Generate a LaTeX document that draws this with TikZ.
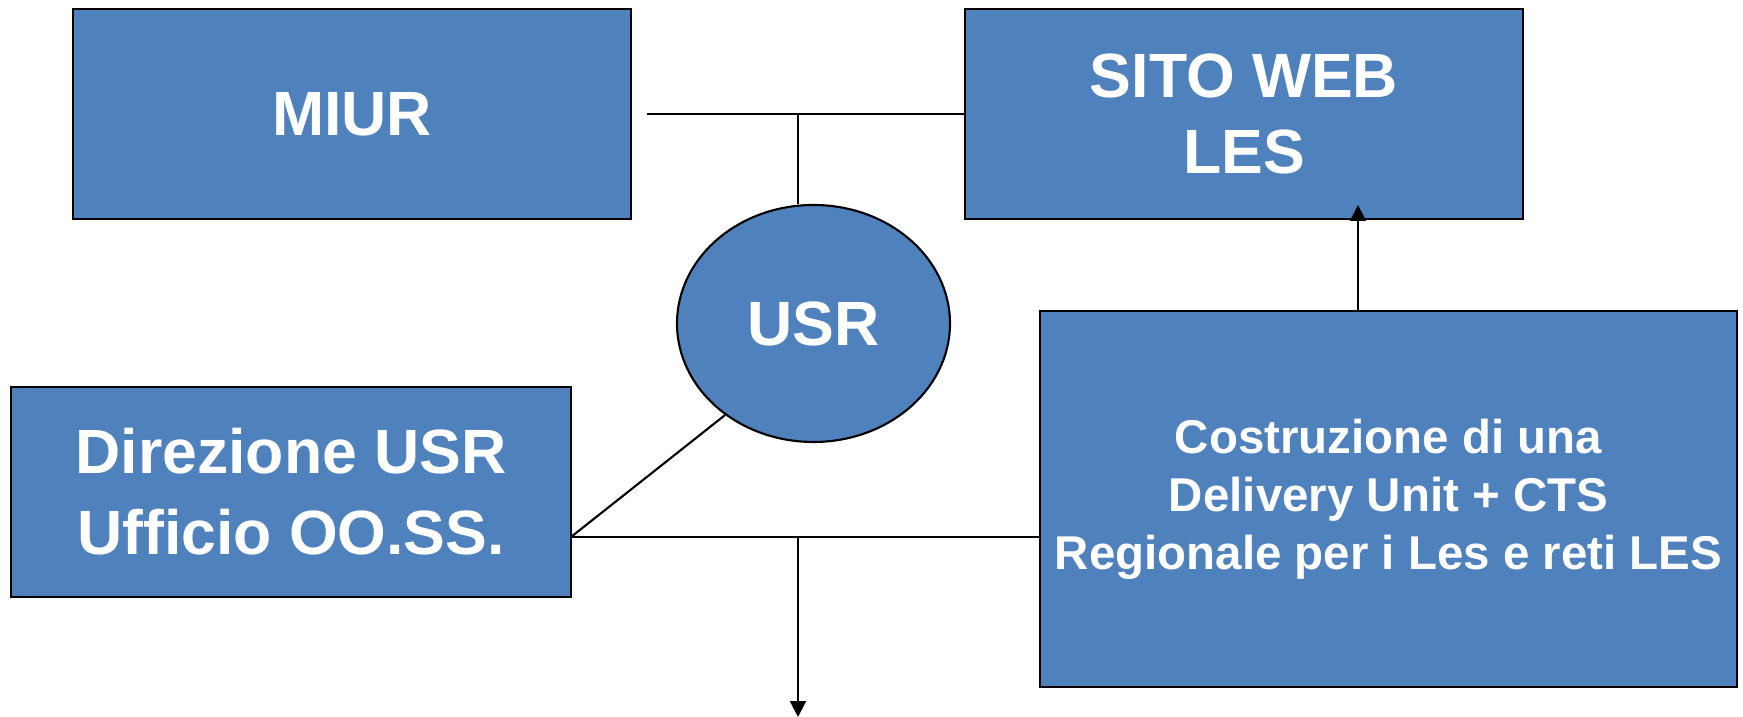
\documentclass[tikz,border=0pt]{standalone}
\usepackage{fontspec}
\setmainfont{Liberation Sans}
\usepackage{tikz}
\usetikzlibrary{arrows.meta,shapes.geometric}
\definecolor{lesblue}{RGB}{79,129,189}

\begin{document}
\begin{tikzpicture}[line width=0.6pt,>={Triangle[width=4.5pt,length=4.5pt]},
                    blue box/.style={rectangle,draw,fill=lesblue,text=white,inner sep=0pt,
                                     align=center,font=\fontsize{17.8}{21.5}\selectfont\bfseries},
                    blue oval/.style={ellipse,draw,fill=lesblue,text=white,inner sep=0pt,
                                      font=\fontsize{17.8}{21.5}\selectfont\bfseries}]
  \useasboundingbox (0,0) rectangle (17.43,7.17);

  \node[blue box,minimum width=5.58cm,minimum height=2.1cm] (miur) at (3.52,6.03) {MIUR};
  \node[blue box,minimum width=5.58cm,minimum height=2.1cm] (sito) at (12.44,6.03) {SITO WEB\\LES};
  \node[blue oval,minimum width=2.73cm,minimum height=2.37cm] (usr) at (8.135,3.935) {USR};
  \node[blue box,minimum width=5.6cm,minimum height=2.1cm,
        font=\fontsize{17.8}{23}\selectfont\bfseries] (dir) at (2.91,2.25) {Direzione USR\\Ufficio OO.SS.};
  \node[blue box,minimum width=6.97cm,minimum height=3.76cm,
        font=\fontsize{13.5}{16.5}\selectfont\bfseries] (cts) at (13.885,2.18)
        {Costruzione di una\\Delivery Unit + CTS\\Regionale per i Les e reti LES};

  % junctions
  \coordinate (top) at (6.47,6.03);
  \coordinate (tj) at (7.98,6.03);
  \coordinate (dj) at (5.71,1.80);
  \coordinate (bj) at (7.98,1.80);
  \coordinate (out) at (7.98,0);
  \coordinate (up) at (13.58,4.06);

  \draw (top) -- (sito.west);
  \draw (tj) -- (tj |- usr.north);
  \draw (dj) -- (usr.226);
  \draw (dj) -- (dj -| cts.west);
  \draw[->] (bj) -- (out);
  \draw[->] (up) -- ++(0,1.06);
\end{tikzpicture}
\end{document}
